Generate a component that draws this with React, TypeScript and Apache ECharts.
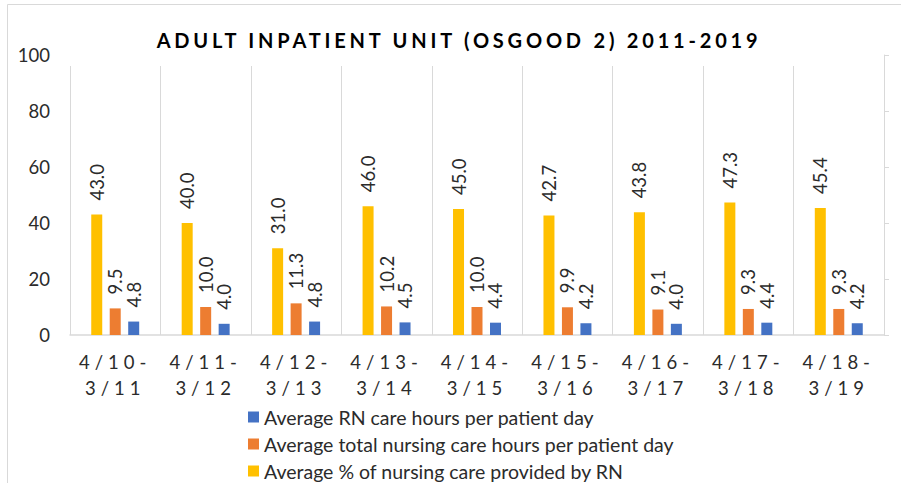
import React, { useEffect, useRef } from "react";
import * as echarts from "echarts";

const titleText = "ADULT INPATIENT UNIT (OSGOOD 2) 2011-2019";
const categories = ["4/10-\n3/11", "4/11-\n3/12", "4/12-\n3/13", "4/13-\n3/14", "4/14-\n3/15", "4/15-\n3/16", "4/16-\n3/17", "4/17-\n3/18", "4/18-\n3/19"];
const pctByRN = [43.0, 40.0, 31.0, 46.0, 45.0, 42.7, 43.8, 47.3, 45.4];
const totalHours = [9.5, 10.0, 11.3, 10.2, 10.0, 9.9, 9.1, 9.3, 9.3];
const rnHours = [4.8, 4.0, 4.8, 4.5, 4.4, 4.2, 4.0, 4.4, 4.2];
const seriesNames = [
  "Average % of nursing care provided by RN",
  "Average total nursing care hours per patient day",
  "Average RN care hours per patient day",
];
const legendOrder = [seriesNames[2], seriesNames[1], seriesNames[0]];
const colors = ["#FFC000", "#ED7D31", "#4472C4"];

const FONT = "Lato";
const TXT = "#2b2b2b";
const GRID = "#d9d9d9";

export default function App() {
  const ref = useRef<HTMLDivElement>(null);
  useEffect(() => {
    if (!ref.current) return;
    const chart = echarts.init(ref.current, null, { renderer: "svg" });
    const mkSeries = (name: string, data: number[], color: string) => ({
      name,
      type: "bar",
      data,
      barWidth: 11,
      barGap: "68%",
      itemStyle: { color },
      label: {
        show: true,
        position: "top",
        rotate: 90,
        align: "left",
        verticalAlign: "middle",
        distance: 14,
        formatter: (p: any) => Number(p.value).toFixed(1),
        fontFamily: FONT,
        fontSize: 18.5,
        color: TXT,
      },
    });
    chart.setOption({
      animation: false,
      graphic: [
        {
          type: "rect",
          shape: { x: 7.5, y: 4.5, width: 1000, height: 1000 },
          style: { fill: "none", stroke: GRID, lineWidth: 1 },
          silent: true,
        },
        {
          type: "text",
          x: 459,
          y: 40,
          style: {
            text: titleText,
            textAlign: "center",
            textVerticalAlign: "middle",
            fontFamily: "Lato, LatoSpA",
            fontSize: 20,
            fontWeight: "bold",
            fill: "#000",
          },
        },
      ],
      grid: [
        { left: 70, right: 17, top: 55, bottom: 148 },
        { left: 70, right: 17, top: 66, bottom: 148 },
      ],
      legend: {
        orient: "vertical",
        left: 248,
        top: 407,
        height: 120,
        padding: 0,
        data: legendOrder,
        itemWidth: 11,
        itemHeight: 11,
        itemGap: 7,
        itemTextGap: 6,
        icon: "rect",
        textStyle: { fontFamily: FONT, fontSize: 19.5, color: TXT },
      },
      xAxis: [
        {
          type: "category",
          data: categories,
          axisLine: { show: true, lineStyle: { color: GRID, width: 1.5 } },
          axisTick: { show: false },
          splitLine: { show: false },
          axisLabel: {
            interval: 0,
            margin: 14,
            lineHeight: 26,
            fontFamily: "Lato, LatoSpB",
            fontSize: 18.5,
            color: TXT,
          },
        },
        {
          type: "category",
          gridIndex: 1,
          data: categories,
          axisLine: { show: false },
          axisTick: { show: false },
          axisLabel: { show: false },
          splitLine: { show: true, interval: 0, lineStyle: { color: GRID, width: 1 } },
        },
      ],
      yAxis: [
        {
          type: "value",
          min: 0,
          max: 100,
          interval: 20,
          axisLine: { show: false },
          axisTick: { show: false },
          splitLine: { show: false },
          axisLabel: { margin: 20, fontFamily: FONT, fontSize: 18.5, color: TXT },
        },
        {
          type: "value",
          position: "right",
          min: 0,
          max: 100,
          interval: 20,
          axisLine: { show: true, lineStyle: { color: GRID, width: 1 } },
          axisTick: { show: true, inside: false, length: 5, lineStyle: { color: GRID } },
          splitLine: { show: false },
          axisLabel: { show: false },
        },
        {
          type: "value",
          gridIndex: 1,
          min: 0,
          max: 100,
          show: false,
        },
      ],
      series: [
        mkSeries(seriesNames[0], pctByRN, colors[0]),
        mkSeries(seriesNames[1], totalHours, colors[1]),
        mkSeries(seriesNames[2], rnHours, colors[2]),
      ],
    });
    return () => chart.dispose();
  }, []);
  return (
    <>
      <style>{`
        text[style*="LatoSpA"] { letter-spacing: 3.8px; }
        text[style*="LatoSpB"] { letter-spacing: 5px; }
      `}</style>
      <div
        ref={ref}
        style={{ position: "fixed", left: 0, top: 0, width: 901, height: 483, background: "#fff" }}
      />
    </>
  );
}
